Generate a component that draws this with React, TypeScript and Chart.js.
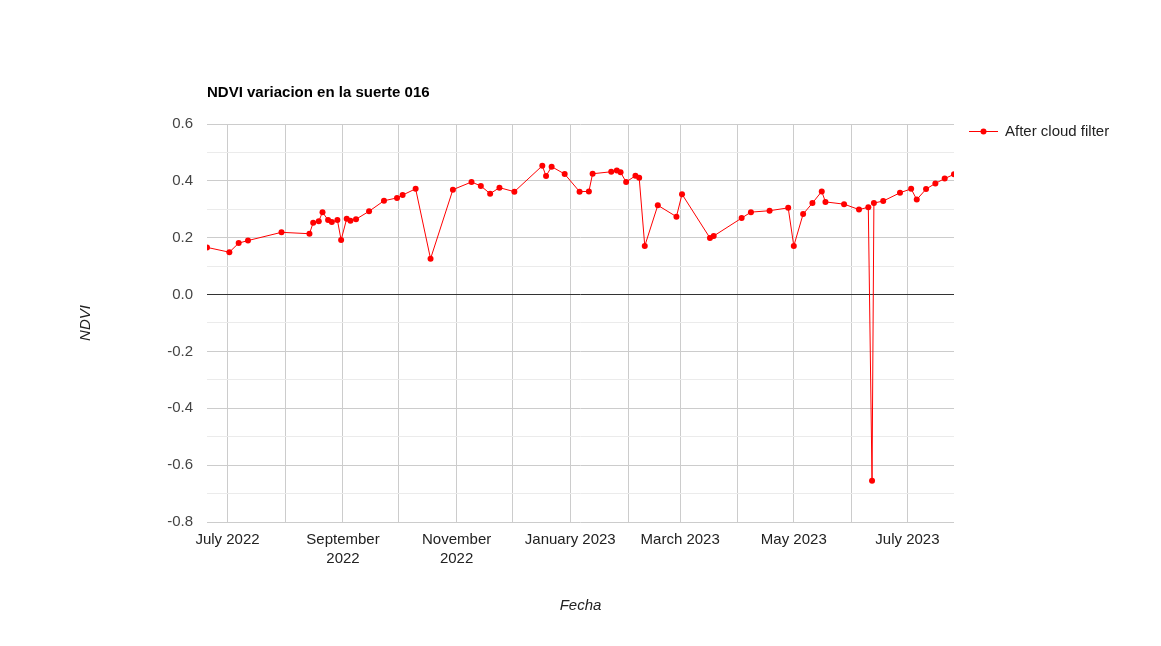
import React, { useEffect, useRef } from 'react';
import { Chart, registerables } from 'chart.js';

Chart.register(...registerables);

const chartTitle = 'NDVI variacion en la suerte 016';
const seriesName = 'After cloud filter';
const xAxisTitle = 'Fecha';
const yAxisTitle = 'NDVI';

const dates = [
  '2022-06-20', '2022-07-02', '2022-07-07', '2022-07-12', '2022-07-30',
  '2022-08-14', '2022-08-16', '2022-08-19', '2022-08-21', '2022-08-24',
  '2022-08-26', '2022-08-29', '2022-08-31', '2022-09-03', '2022-09-05',
  '2022-09-08', '2022-09-15', '2022-09-23', '2022-09-30', '2022-10-03',
  '2022-10-10', '2022-10-18', '2022-10-30', '2022-11-09', '2022-11-14',
  '2022-11-19', '2022-11-24', '2022-12-02', '2022-12-17', '2022-12-19',
  '2022-12-22', '2022-12-29', '2023-01-06', '2023-01-11', '2023-01-13',
  '2023-01-23', '2023-01-26', '2023-01-28', '2023-01-31', '2023-02-05',
  '2023-02-07', '2023-02-10', '2023-02-17', '2023-02-27', '2023-03-02',
  '2023-03-17', '2023-03-19', '2023-04-03', '2023-04-08', '2023-04-18',
  '2023-04-28', '2023-05-01', '2023-05-06', '2023-05-11', '2023-05-16',
  '2023-05-18', '2023-05-28', '2023-06-05', '2023-06-10', '2023-06-12',
  '2023-06-13', '2023-06-18', '2023-06-27', '2023-07-03', '2023-07-06',
  '2023-07-11', '2023-07-16', '2023-07-21', '2023-07-26',
];

const ndviValues = [
  0.166, 0.149, 0.181, 0.190, 0.219,
  0.214, 0.253, 0.258, 0.290, 0.262,
  0.255, 0.262, 0.192, 0.267, 0.260,
  0.265, 0.293, 0.330, 0.340, 0.350,
  0.372, 0.126, 0.369, 0.396, 0.382,
  0.355, 0.376, 0.362, 0.453, 0.417,
  0.450, 0.424, 0.362, 0.363, 0.425,
  0.432, 0.436, 0.430, 0.396, 0.418,
  0.411, 0.171, 0.314, 0.274, 0.353,
  0.199, 0.206, 0.269, 0.290, 0.295,
  0.305, 0.171, 0.283, 0.322, 0.363,
  0.326, 0.318, 0.299, 0.307, -0.655,
  0.322, 0.329, 0.358, 0.372, 0.334,
  0.371, 0.391, 0.408, 0.423,
];

const monthTicks = [
  '2022-07-01', '2022-08-01', '2022-09-01', '2022-10-01', '2022-11-01',
  '2022-12-01', '2023-01-01', '2023-02-01', '2023-03-01', '2023-04-01',
  '2023-05-01', '2023-06-01', '2023-07-01',
];

const monthLabels: (string | string[])[] = [
  'July 2022', '', ['September', '2022'], '', ['November', '2022'],
  '', 'January 2023', '', 'March 2023', '',
  'May 2023', '', 'July 2023',
];

const yTicks = [-0.8, -0.7, -0.6, -0.5, -0.4, -0.3, -0.2, -0.1, 0, 0.1, 0.2, 0.3, 0.4, 0.5, 0.6];

const FONT = "'Liberation Sans', Arial, Helvetica, sans-serif";

const toDay = (s: string) => {
  const [y, m, d] = s.split('-').map(Number);
  return Date.UTC(y, m - 1, d) / 86400000;
};

const isMajor = (v: number) => Math.round(v * 10) % 2 === 0;

const textPlugin = {
  id: 'googleText',
  afterDraw(chart: any) {
    const ctx = chart.ctx as CanvasRenderingContext2D;
    const area = chart.chartArea;
    ctx.save();
    // title
    ctx.fillStyle = '#000000';
    ctx.font = `bold 15px ${FONT}`;
    ctx.textAlign = 'left';
    ctx.textBaseline = 'alphabetic';
    ctx.fillText(chartTitle, area.left, 97);

    // legend
    const ly = 131;
    ctx.strokeStyle = '#ff0000';
    ctx.lineWidth = 1;
    ctx.beginPath();
    ctx.moveTo(969, ly + 0.5);
    ctx.lineTo(998, ly + 0.5);
    ctx.stroke();
    ctx.fillStyle = '#ff0000';
    ctx.beginPath();
    ctx.arc(983.5, ly + 0.5, 3, 0, Math.PI * 2);
    ctx.fill();
    ctx.fillStyle = '#222222';
    ctx.font = `15px ${FONT}`;
    ctx.textAlign = 'left';
    ctx.fillText(seriesName, 1005, 136);

    // x axis title
    ctx.font = `italic 15px ${FONT}`;
    ctx.textAlign = 'center';
    ctx.fillStyle = '#222222';
    ctx.fillText(xAxisTitle, (area.left + area.right) / 2, 610);

    // y axis title
    ctx.translate(90, (area.top + area.bottom) / 2);
    ctx.rotate(-Math.PI / 2);
    ctx.fillText(yAxisTitle, 0, 0);
    ctx.restore();
  },
};

export default function App() {
  const canvasRef = useRef<HTMLCanvasElement | null>(null);

  useEffect(() => {
    const canvas = canvasRef.current;
    if (!canvas) return;
    const points = dates.map((d, i) => ({ x: toDay(d), y: ndviValues[i] }));
    const chart = new Chart(canvas, {
      type: 'line',
      data: {
        datasets: [
          {
            label: seriesName,
            data: points,
            borderColor: '#ff0000',
            backgroundColor: '#ff0000',
            borderWidth: 1,
            pointRadius: 3,
            pointBorderWidth: 0,
            pointBackgroundColor: '#ff0000',
            tension: 0,
          },
        ],
      },
      options: {
        responsive: false,
        animation: false,
        events: [],
        layout: { padding: { left: 60, right: 207, top: 124, bottom: 0 } },
        plugins: {
          legend: { display: false },
          title: { display: false },
          tooltip: { enabled: false },
        },
        scales: {
          x: {
            type: 'linear',
            min: toDay(dates[0]),
            max: toDay(dates[dates.length - 1]),
            afterBuildTicks: (s: any) => {
              s.ticks = monthTicks.map((m) => ({ value: toDay(m) }));
            },
            afterFit: (s: any) => {
              s.height = 124;
            },
            ticks: {
              autoSkip: false,
              maxRotation: 0,
              minRotation: 0,
              padding: 8,
              color: '#222222',
              font: { family: FONT, size: 15, lineHeight: 1.3 },
              callback: (_v: any, i: number) => monthLabels[i],
            },
            grid: { color: '#cccccc', drawTicks: false, lineWidth: 1 },
            border: { display: false },
          },
          y: {
            type: 'linear',
            min: -0.8,
            max: 0.6,
            afterBuildTicks: (s: any) => {
              s.ticks = yTicks.map((v) => ({ value: v }));
            },
            afterFit: (s: any) => {
              s.width = 147;
            },
            ticks: {
              padding: 14,
              color: '#444444',
              font: { family: FONT, size: 15 },
              callback: (v: any) => (isMajor(Number(v)) ? Number(v).toFixed(1) : ''),
            },
            grid: {
              drawTicks: false,
              lineWidth: 1,
              color: (c: any) => {
                const v = c.tick ? c.tick.value : 1;
                if (Math.abs(v) < 1e-9) return '#333333';
                return isMajor(v) ? '#cccccc' : '#ebebeb';
              },
            },
            border: { display: false },
          },
        },
      },
      plugins: [textPlugin],
    });
    return () => chart.destroy();
  }, []);

  return (
    <div style={{ position: 'absolute', left: 0, top: 0, width: 1161, height: 646, background: '#ffffff' }}>
      <canvas ref={canvasRef} width={1161} height={646} style={{ width: 1161, height: 646, display: 'block' }} />
    </div>
  );
}
